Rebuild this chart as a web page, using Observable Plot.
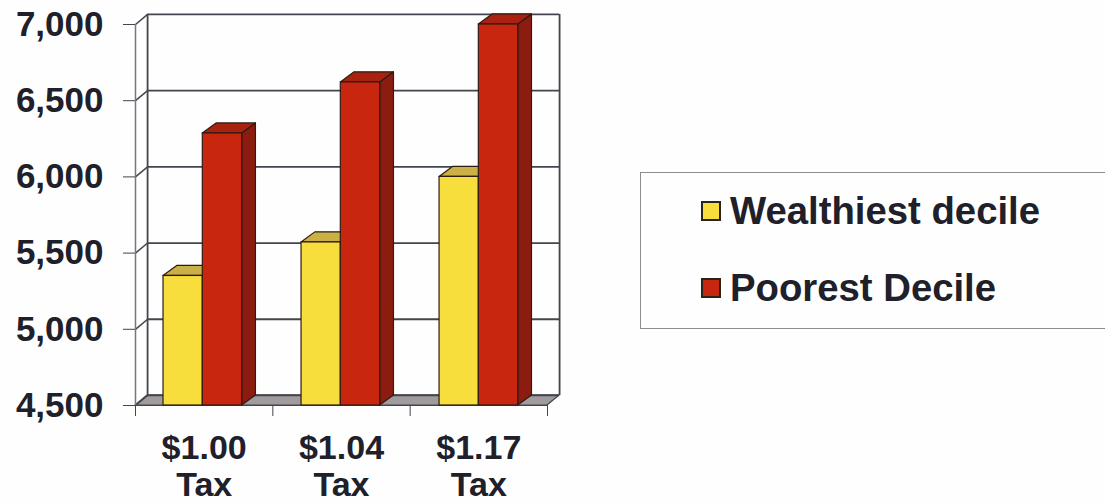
<!DOCTYPE html>
<html>
<head>
<meta charset="utf-8">
<script src="https://cdn.jsdelivr.net/npm/d3@7"></script>
<script src="https://cdn.jsdelivr.net/npm/@observablehq/plot@0.6"></script>
<style>
  html, body { margin: 0; padding: 0; background: #fefefe; overflow: hidden; }
  #chart { position: relative; width: 1105px; height: 504px; font-family: "Liberation Sans", Arial, sans-serif; }
  #chart svg { position: absolute; left: 0; top: 0; background: transparent; }
  .legend { position: absolute; left: 640px; top: 172px; width: 466px; height: 157px; box-sizing: border-box; border: 1.5px solid #8d8d8f; }
  .entry { position: absolute; left: 60px; display: flex; align-items: center; font-weight: bold; font-size: 38.3px; color: #20202a; line-height: 44px; white-space: nowrap; }
  .swatch { width: 16px; height: 16px; border: 2px solid #2a2418; margin-right: 9px; }
</style>
</head>
<body>
<div id="chart"></div>
<script>
// Cigarette tax scenarios and the two income groups compared under each
const categories = ["$1.00", "$1.04", "$1.17"];
const wealthiest = [5350, 5570, 6000];
const poorest = [6285, 6620, 7000];
const yTicks = [4500, 5000, 5500, 6000, 6500, 7000];
const xBoundaries = [0, 1, 2, 3];
const seriesNames = ["Wealthiest decile", "Poorest Decile"];
const seriesColors = ["#f8de3d", "#c9260f"];

const baseline = 4500;
// Depth of the extruded boxes and of the chart walls, in scale units
const barDepthX = 0.1;
const wallDepthX = 0.088;
const depthY = 66;
const groupStep = 1.005;
const edge = "#2e1c14";
const wall = "#44444e";

// Faces are built as small parallelogram tables, one id per face
const bars = categories.flatMap((c, i) => [
  {id: `w${i}`, x0: i * groupStep + 0.204, x1: i * groupStep + 0.49, v: wealthiest[i]},
  {id: `p${i}`, x0: i * groupStep + 0.49, x1: i * groupStep + 0.777, v: poorest[i]}
]);
const tops = bs => bs.flatMap(b => [
  {id: b.id, y: b.v, a: b.x0, c: b.x1},
  {id: b.id, y: b.v + depthY, a: b.x0 + barDepthX, c: b.x1 + barDepthX}
]);
const sides = bs => bs.flatMap(b => [
  {id: b.id, x: b.x1, lo: baseline, hi: b.v},
  {id: b.id, x: b.x1 + barDepthX, lo: baseline + depthY, hi: b.v + depthY}
]);
const yellow = bars.filter(b => b.id[0] === "w");
const red = bars.filter(b => b.id[0] === "p");

const floor = [
  {y: baseline, a: 0, c: 3},
  {y: baseline + depthY, a: wallDepthX, c: 3 + wallDepthX}
];

const barMarks = (bs, front, top, side) => [
  Plot.areaY(sides(bs), {x: "x", y1: "lo", y2: "hi", z: "id", fill: side, stroke: edge, strokeWidth: 1.2}),
  Plot.areaX(tops(bs), {y: "y", x1: "a", x2: "c", z: "id", fill: top, stroke: edge, strokeWidth: 1.2}),
  Plot.rect(bs, {x1: "x0", x2: "x1", y1: baseline, y2: "v", fill: front, stroke: edge, strokeWidth: 1.2})
];

const plot = Plot.plot({
  width: 1105,
  height: 504,
  marginLeft: 135,
  marginRight: 558,
  marginTop: 24,
  marginBottom: 99,
  style: {background: "transparent", fontFamily: "'Liberation Sans', Arial, sans-serif"},
  x: {type: "linear", domain: [0, 3], axis: null},
  y: {type: "linear", domain: [4500, 7000], axis: null},
  marks: [
    // Floor of the box
    Plot.areaX(floor, {y: "y", x1: "a", x2: "c", fill: "#a19b9e", stroke: wall, strokeWidth: 1.2}),
    // Back wall gridlines and the slanted left wall
    Plot.ruleY(yTicks, {y: d => d + depthY, x1: wallDepthX, x2: 3 + wallDepthX, stroke: wall, strokeWidth: 1.8}),
    Plot.link(yTicks, {x1: 0, y1: d => d, x2: wallDepthX, y2: d => d + depthY, stroke: wall, strokeWidth: 1.5}),
    Plot.ruleX([wallDepthX, 3 + wallDepthX], {y1: baseline + depthY, y2: 7000 + depthY, stroke: wall, strokeWidth: 1.8}),
    Plot.ruleX([0], {y1: baseline, y2: 7000, stroke: "#77777f", strokeWidth: 1.5}),
    Plot.ruleY([baseline], {x1: 0, x2: 3, stroke: wall, strokeWidth: 1.2}),
    // Boxes
    ...barMarks(yellow, seriesColors[0], "#cbb046", "#a8922c"),
    ...barMarks(red, seriesColors[1], "#a9210f", "#8c1c10"),
    // Axes
    Plot.axisY({
      ticks: yTicks, tickSize: 12, tickPadding: 20, tickFormat: d3.format(","),
      fontSize: 35, fontWeight: "bold", color: "#20202a", stroke: wall
    }),
    Plot.axisX({
      ticks: xBoundaries, tickSize: 11, tickFormat: () => "", stroke: wall, anchor: "bottom"
    }),
    Plot.text(categories, {
      x: (d, i) => i + 0.5, y: baseline, text: d => `${d}\nTax`,
      dy: 60, fontSize: 34, fontWeight: "bold", lineHeight: 1.09, fill: "#20202a"
    })
  ]
});

const chart = document.getElementById("chart");
chart.appendChild(plot);

// Legend panel beside the plot
const legend = document.createElement("div");
legend.className = "legend";
seriesNames.forEach((name, i) => {
  const row = document.createElement("div");
  row.className = "entry";
  row.style.top = (i === 0 ? 16 : 93) + "px";
  const swatch = document.createElement("span");
  swatch.className = "swatch";
  swatch.style.background = seriesColors[i];
  row.appendChild(swatch);
  row.appendChild(document.createTextNode(name));
  legend.appendChild(row);
});
chart.appendChild(legend);
</script>
</body>
</html>
